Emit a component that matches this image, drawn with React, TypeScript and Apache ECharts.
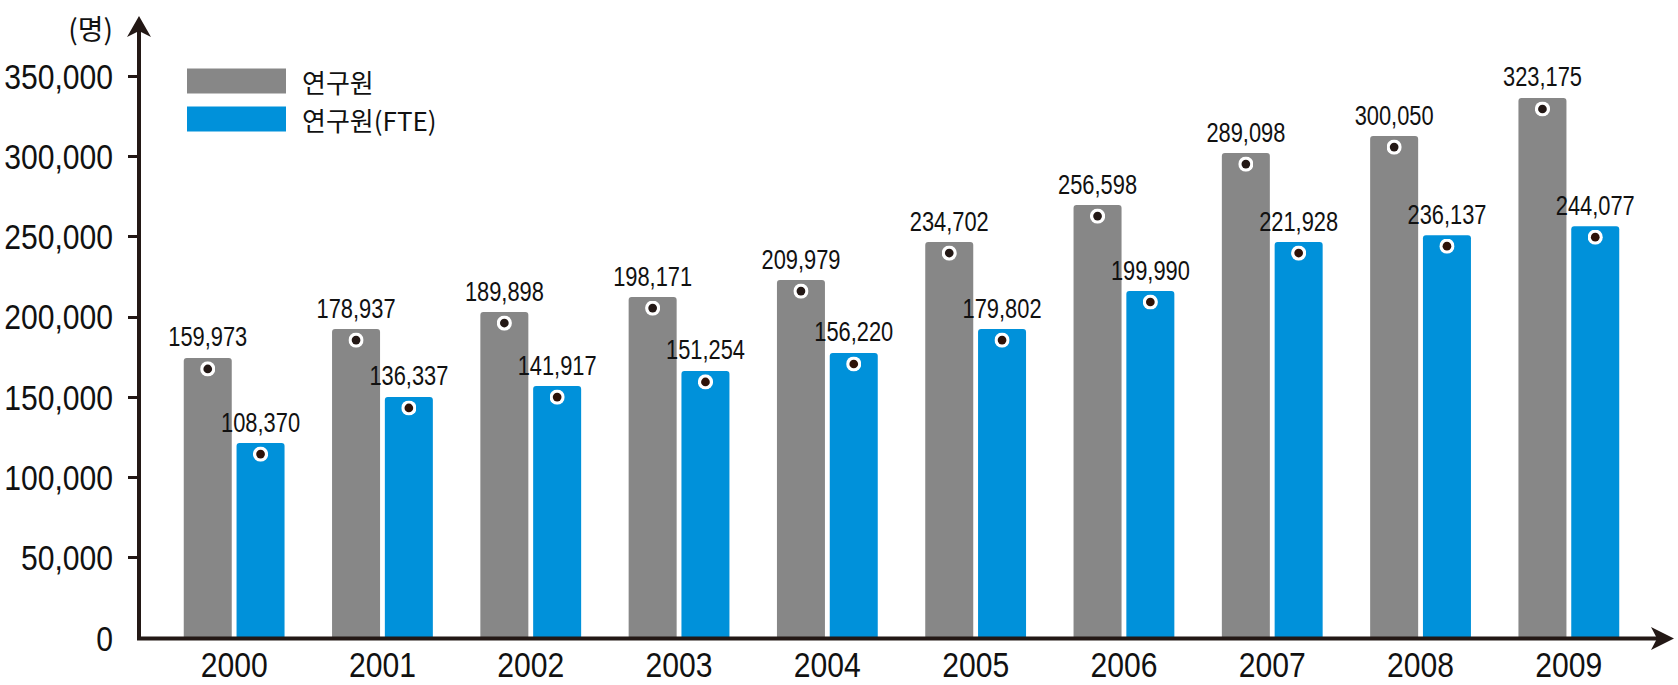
import React, { useEffect, useRef } from "react";
import * as echarts from "echarts";

// Categories
const years = ["2000", "2001", "2002", "2003", "2004", "2005", "2006", "2007", "2008", "2009"];

// Printed values (labels)
const researchersLabel = [159973, 178937, 189898, 198171, 209979, 234702, 256598, 289098, 300050, 323175];
const fteLabel = [108370, 136337, 141917, 151254, 156220, 179802, 199990, 221928, 236137, 244077];

// Bar heights as drawn in the picture
const researchersBar = [174400, 192400, 203000, 212300, 222900, 246600, 269600, 302000, 312600, 336300];
const fteBar = [121400, 150100, 156900, 166300, 177500, 192400, 216100, 246600, 250900, 256500];

// Y tick values
const yTickValues = [50000, 100000, 150000, 200000, 250000, 300000, 350000];

const seriesNames = ["연구원", "연구원(FTE)"];

const NUM_FONT = "'Liberation Sans', Arial, sans-serif";
const KR = "'Noto Sans CJK KR', 'Noto Sans', sans-serif";
const INK = "#231815";
const GRAY = "#878787";
const BLUE = "#0091DA";

const fmt = (v: number) => v.toLocaleString("en-US");

const dotImage = (center: string) =>
  "image://data:image/svg+xml;charset=utf-8," +
  encodeURIComponent(
    `<svg xmlns="http://www.w3.org/2000/svg" width="30" height="30" viewBox="0 0 30 30">` +
      `<circle cx="15" cy="15" r="15" fill="#ffffff"/>` +
      `<circle cx="15" cy="15" r="8.6" fill="${center}"/></svg>`
  );

// Condense numeric texts horizontally (the reference uses a narrow typeface)
function squeezeNumbers(root: HTMLElement | null) {
  if (!root) return;
  root.querySelectorAll("text").forEach((node) => {
    const t = node as SVGTextElement;
    const s = (t.textContent || "").trim();
    if (!/^[\d,]+$/.test(s)) return;
    if (t.getAttribute("data-sq")) return;
    try {
      const fs = parseFloat(getComputedStyle(t).fontSize) || 28;
      const w = t.getComputedTextLength();
      if (!w) return;
      const factor = fs < 31 ? 0.78 : 0.86;
      t.setAttribute("textLength", String(w * factor));
      t.setAttribute("lengthAdjust", "spacingAndGlyphs");
      t.setAttribute("data-sq", "1");
    } catch (e) {
      /* ignore */
    }
  });
}

export default function App() {
  const ref = useRef<HTMLDivElement>(null);

  useEffect(() => {
    if (!ref.current) return;
    const chart = echarts.init(ref.current, undefined, { renderer: "svg" });

    const barLabel = (labels: number[]) => ({
      show: true,
      position: "top",
      distance: 7,
      fontSize: 28,
      fontFamily: NUM_FONT,
      color: "#111",
      formatter: (p: any) => fmt(labels[p.dataIndex]),
    });

    const dotSeries = (name: string, data: number[], center: string) => ({
      type: "pictorialBar",
      name,
      data,
      symbol: dotImage(center),
      symbolSize: 15,
      symbolPosition: "end",
      symbolOffset: [0, 3.5],
      barWidth: 48,
      barGap: "10%",
      silent: true,
      z: 5,
      label: { show: false },
    });

    chart.setOption({
      animation: false,
      grid: {
        left: 160,
        right: 35,
        top: 76,
        bottom: 47,
        containLabel: false,
        outerBoundsMode: "none",
      },
      legend: {
        data: seriesNames,
        orient: "vertical",
        left: 182,
        top: 63,
        itemWidth: 99,
        itemHeight: 25,
        itemGap: 12,
        icon: "rect",
        selectedMode: false,
        textStyle: { fontSize: 26, fontFamily: KR, color: "#111", padding: [0, 0, 0, 11] },
      },
      xAxis: {
        type: "category",
        data: years,
        axisLine: { show: false },
        axisTick: { show: false },
        axisLabel: { fontSize: 35, fontFamily: NUM_FONT, color: "#111", margin: 9 },
      },
      yAxis: {
        type: "value",
        min: 0,
        max: 350000,
        interval: 50000,
        offset: 21,
        axisLine: { show: false },
        axisTick: {
          show: true,
          length: 11,
          customValues: yTickValues,
          lineStyle: { color: INK, width: 3 },
        },
        splitLine: { show: false },
        axisLabel: {
          fontSize: 35,
          fontFamily: NUM_FONT,
          color: "#111",
          margin: 26,
          formatter: (v: number) => fmt(v),
        },
      },
      series: [
        {
          type: "bar",
          name: seriesNames[0],
          data: researchersBar,
          barWidth: 48,
          barGap: "10%",
          itemStyle: { color: GRAY, borderRadius: [3, 3, 0, 0] },
          label: barLabel(researchersLabel),
        },
        {
          type: "bar",
          name: seriesNames[1],
          data: fteBar,
          barWidth: 48,
          barGap: "10%",
          itemStyle: { color: BLUE, borderRadius: [3, 3, 0, 0] },
          label: barLabel(fteLabel),
        },
        dotSeries("dot-a", researchersBar, INK),
        dotSeries("dot-b", fteBar, "#2e1208"),
      ],
      graphic: [
        {
          type: "line",
          z: 100,
          shape: { x1: 139, y1: 640, x2: 139, y2: 30 },
          style: { stroke: INK, lineWidth: 4 },
        },
        {
          type: "polygon",
          z: 100,
          shape: { points: [[139, 16], [151, 37], [139, 31], [127, 37]] },
          style: { fill: INK },
        },
        {
          type: "line",
          z: 100,
          shape: { x1: 137, y1: 638.5, x2: 1660, y2: 638.5 },
          style: { stroke: INK, lineWidth: 4 },
        },
        {
          type: "polygon",
          z: 100,
          shape: { points: [[1674, 638.5], [1651, 627], [1657, 638.5], [1651, 650]] },
          style: { fill: INK },
        },
        {
          type: "text",
          z: 100,
          style: {
            text: "(명)",
            x: 113,
            y: 28,
            align: "right",
            verticalAlign: "middle",
            fontSize: 28,
            fontFamily: KR,
            fill: "#111",
          },
        },
      ],
    });

    const el = ref.current;
    squeezeNumbers(el);
    const onFinished = () => squeezeNumbers(el);
    chart.on("finished", onFinished);

    return () => {
      chart.off("finished", onFinished);
      chart.dispose();
    };
  }, []);

  return (
    <div
      ref={ref}
      style={{ position: "fixed", left: 0, top: 0, width: 1678, height: 685, background: "#ffffff" }}
    />
  );
}
